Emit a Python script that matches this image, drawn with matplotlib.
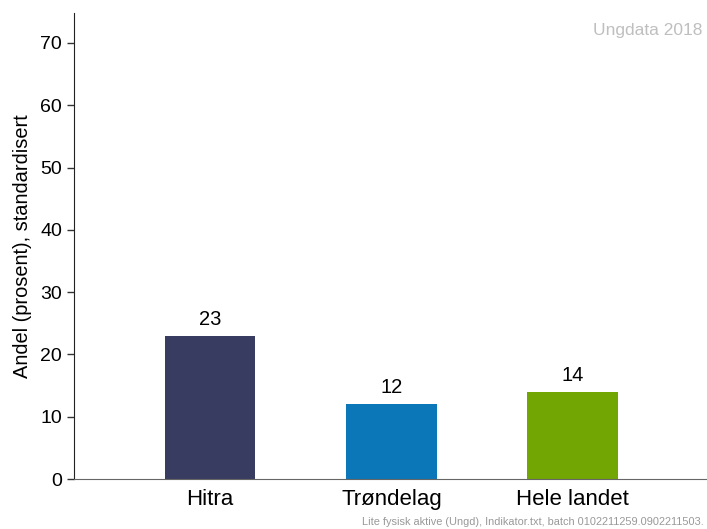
import matplotlib
matplotlib.use("Agg")
import matplotlib.pyplot as plt

categories = ["Hitra", "Trøndelag", "Hele landet"]
values = [23, 12, 14]
colors = ["#393C61", "#0C77B8", "#72A603"]
yticks = [0, 10, 20, 30, 40, 50, 60, 70]

plt.rcParams['font.family'] = ['Liberation Sans', 'DejaVu Sans']

fig = plt.figure(figsize=(7.07, 5.29), dpi=100)
ax = fig.add_axes([74/707, 1-479/529, 1-74/707, (479-13)/529])

x = list(range(len(categories)))
bars = ax.bar(x, values, width=0.5, color=colors)
for xi, v in zip(x, values):
    ax.text(xi, v + 1.1, f"{v}", ha="center", va="bottom", fontsize=14.5)

ax.set_xlim(-0.75, 2.74)
ax.set_ylim(0, 74.8)
ax.set_yticks(yticks)
ax.set_xticks(x)
ax.set_xticklabels(categories, fontsize=16)
ax.tick_params(axis="x", length=0, pad=7)
ax.tick_params(axis="y", labelsize=14, length=5, width=1, color="#333333")
ax.set_ylabel("Andel (prosent), standardisert", fontsize=14.4, labelpad=6)

for s in ["top", "right"]:
    ax.spines[s].set_visible(False)
ax.spines["left"].set_color("#222222")
ax.spines["bottom"].set_color("#666666")

fig.text(0.994, 1 - 30/529, "Ungdata 2018", ha="right", va="center", fontsize=12.5, color="#BFBFBF")
fig.text(0.995, 0.004, "Lite fysisk aktive (Ungd), Indikator.txt, batch 0102211259.0902211503.",
         ha="right", va="bottom", fontsize=7.9, color="#999999")

fig.savefig("out.png", dpi=100)
